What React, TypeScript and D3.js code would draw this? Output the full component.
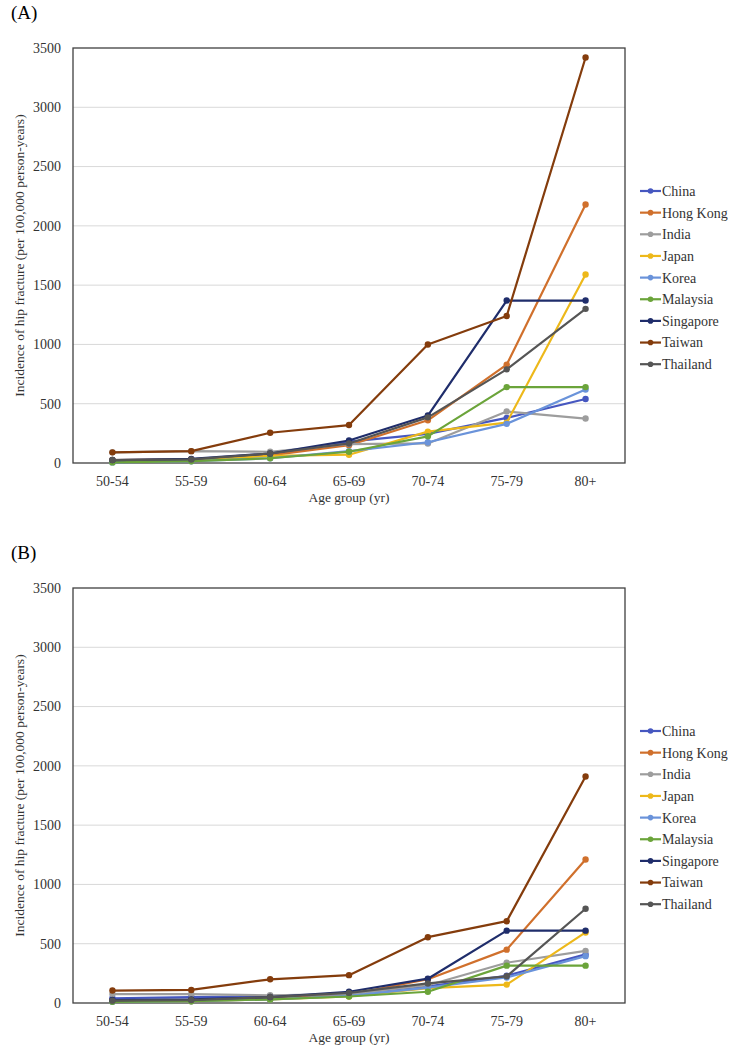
import React from "react";
import * as d3 from "d3";

const ageGroups = ["50-54", "55-59", "60-64", "65-69", "70-74", "75-79", "80+"];
const countries = ["China", "Hong Kong", "India", "Japan", "Korea", "Malaysia", "Singapore", "Taiwan", "Thailand"];
const colors = ["#4657c0", "#d0702c", "#9d9d9d", "#edb81a", "#6a93da", "#6ba43a", "#1f2d6b", "#843c0c", "#555555"];

// Panel A
const chinaA = [20, 30, 70, 180, 245, 380, 540];
const hongKongA = [25, 30, 65, 150, 360, 830, 2180];
const indiaA = [90, 100, 95, 160, 165, 435, 375];
const japanA = [20, 25, 60, 70, 265, 340, 1590];
const koreaA = [5, 15, 40, 100, 175, 330, 620];
const malaysiaA = [5, 15, 40, 95, 225, 640, 640];
const singaporeA = [25, 35, 80, 190, 400, 1370, 1370];
const taiwanA = [90, 100, 255, 320, 1000, 1240, 3420];
const thailandA = [25, 30, 80, 165, 385, 790, 1300];

// Panel B
const chinaB = [40, 50, 55, 80, 140, 230, 410];
const hongKongB = [20, 25, 40, 70, 200, 450, 1210];
const indiaB = [75, 75, 65, 75, 150, 340, 440];
const japanB = [15, 15, 30, 55, 125, 155, 595];
const koreaB = [10, 15, 30, 60, 130, 215, 395];
const malaysiaB = [10, 15, 30, 55, 95, 315, 315];
const singaporeB = [25, 30, 50, 95, 205, 610, 610];
const taiwanB = [105, 110, 200, 235, 555, 690, 1910];
const thailandB = [20, 25, 50, 85, 165, 225, 795];

const yTicks = [0, 500, 1000, 1500, 2000, 2500, 3000, 3500];

const panels = [
  { label: "(A)", series: [chinaA, hongKongA, indiaA, japanA, koreaA, malaysiaA, singaporeA, taiwanA, thailandA] },
  { label: "(B)", series: [chinaB, hongKongB, indiaB, japanB, koreaB, malaysiaB, singaporeB, taiwanB, thailandB] },
];

const FONT = "Liberation Serif, Tinos, Times New Roman, DejaVu Serif, serif";
const left = 73, right = 625, top = 48, bottom = 463;

function Panel({ label, series, dy }: { label: string; series: number[][]; dy: number }) {
  const x = d3.scalePoint<string>().domain(ageGroups).range([left, right]).padding(0.5);
  const y = d3.scaleLinear().domain([0, 3500]).range([bottom, top]);
  const line = d3
    .line<number>()
    .x((_, i) => x(ageGroups[i]) as number)
    .y((v) => y(v));
  return (
    <g transform={`translate(0,${dy})`}>
      <text x={11} y={19} style={{ fontFamily: FONT }} fontSize={19} fill="#000">{label}</text>
      {yTicks.map((t) => (
        <g key={t}>
          {t > 0 && t < 3500 && (
            <line x1={left} x2={right} y1={y(t)} y2={y(t)} stroke="#d9d9d9" strokeWidth={1} />
          )}
          <text x={61} y={y(t)} dy="0.35em" textAnchor="end" style={{ fontFamily: FONT }} fontSize={14} fill="#333">
            {t}
          </text>
        </g>
      ))}
      <rect x={left} y={top} width={right - left} height={bottom - top} fill="none" stroke="#404040" strokeWidth={1.3} />
      {ageGroups.map((g) => (
        <text key={g} x={x(g)} y={486} textAnchor="middle" style={{ fontFamily: FONT }} fontSize={14} fill="#333">
          {g}
        </text>
      ))}
      <text x={(left + right) / 2} y={502} textAnchor="middle" style={{ fontFamily: FONT }} fontSize={13.5} fill="#333">
        Age group (yr)
      </text>
      <text
        transform={`translate(24,${(top + bottom) / 2}) rotate(-90)`}
        textAnchor="middle"
        style={{ fontFamily: FONT }}
        fontSize={13.5}
        fill="#333"
      >
        Incidence of hip fracture (per 100,000 person-years)
      </text>
      {series.map((s, k) => (
        <g key={countries[k]}>
          <path d={line(s) as string} fill="none" stroke={colors[k]} strokeWidth={2.2} strokeLinejoin="round" />
          {s.map((v, i) => (
            <circle key={i} cx={x(ageGroups[i]) as number} cy={y(v)} r={3.2} fill={colors[k]} />
          ))}
        </g>
      ))}
      {countries.map((c, k) => {
        const ly = 191 + k * 21.65;
        return (
          <g key={c}>
            <line x1={640} x2={661} y1={ly} y2={ly} stroke={colors[k]} strokeWidth={2.2} />
            <circle cx={650.5} cy={ly} r={2.8} fill={colors[k]} />
            <text x={662} y={ly} dy="0.35em" style={{ fontFamily: FONT }} fontSize={14} fill="#333">
              {c}
            </text>
          </g>
        );
      })}
    </g>
  );
}

export default function App() {
  return (
    <svg width={731} height={1049} style={{ position: "absolute", left: 0, top: 0, background: "#fff" }}>
      <rect width={731} height={1049} fill="#fff" />
      {panels.map((p, i) => (
        <Panel key={p.label} label={p.label} series={p.series} dy={i * 540} />
      ))}
    </svg>
  );
}
